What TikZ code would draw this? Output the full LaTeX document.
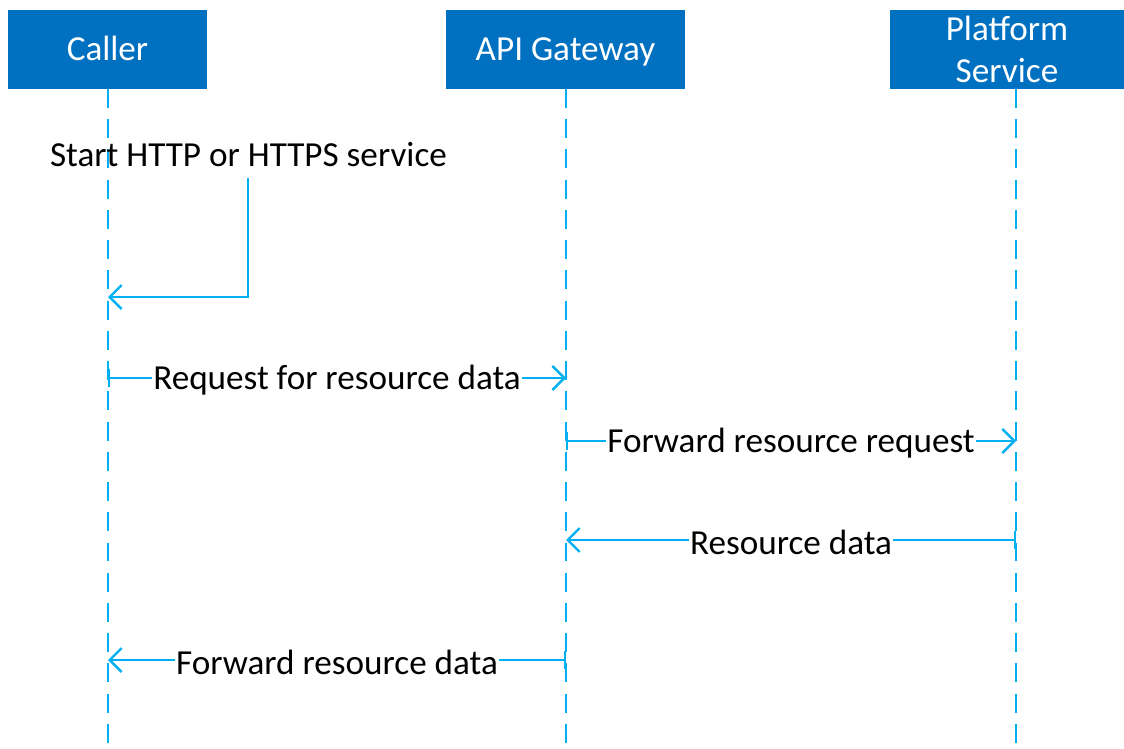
\documentclass[tikz,border=0pt]{standalone}
\usepackage{fontspec}
\setmainfont{Carlito}
\usepackage{tikz}
\usetikzlibrary{arrows.meta, positioning, calc}
\definecolor{boxblue}{HTML}{0070C0}
\definecolor{lineblue}{HTML}{00B0F0}

\begin{document}
\begin{tikzpicture}[x=0.025cm, y=-0.025cm, font=\fontsize{25}{30}\selectfont,
        actor/.style={fill=boxblue, text=white, minimum height=1.975cm, align=center, inner sep=0pt},
        oneline/.style={text height=16pt, text depth=0pt},
        life/.style={lineblue, line width=1.7pt, dash pattern=on 13.5pt off 8pt},
        msg/.style={lineblue, line width=1.7pt, {Bar[width=13pt]}-{Straight Barb[length=8.5pt, width=17pt]}},
        selfmsg/.style={lineblue, line width=1.7pt, -{Straight Barb[length=8.5pt, width=17pt]}},
        lbl/.style={fill=white, text=black, inner sep=1pt, yshift=-1.5pt}]
        \useasboundingbox (0,0) rectangle (1124,749);
        % participants
        \node[actor, oneline, minimum width=4.975cm] (caller) at (107.5,49.5) {Caller};
        \node[actor, oneline, minimum width=5.975cm] (gateway) at (565.5,49.5) {API Gateway};
        \node[actor, minimum width=5.85cm] (platform) at (1007,49.5) {Platform\\Service};
        % lifelines
        \foreach \n/\x in {caller/108, gateway/566, platform/1016} {
            \coordinate (\n Top) at (\x,89);
            \coordinate (\n Bot) at (\x,749);
            \draw[life] (\n Top) -- (\n Bot);
        }
        % self message
        \node (start) at (248.5,155) {Start HTTP or HTTPS service};
        \coordinate (selfTop) at (248,178);
        \draw[selfmsg] (selfTop) |- (callerTop |- 0,297);
        % messages
        \draw[msg] (callerTop |- 0,378) -- node[lbl] {Request for resource data} (gatewayTop |- 0,378);
        \draw[msg] (gatewayTop |- 0,441) -- node[lbl] {Forward resource request} (platformTop |- 0,441);
        \draw[msg] (platformTop |- 0,540) -- node[lbl] {Resource data} (gatewayTop |- 0,540);
        \draw[msg] (gatewayTop |- 0,660) -- node[lbl] {Forward resource data} (callerTop |- 0,660);
    \end{tikzpicture}
\end{document}
